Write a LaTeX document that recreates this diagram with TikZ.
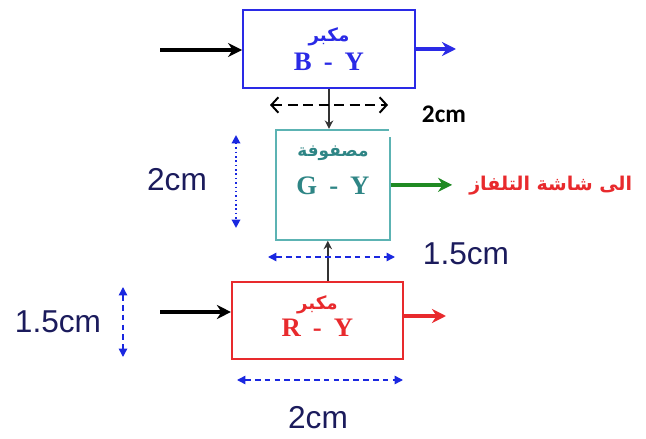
\documentclass[tikz,border=0pt]{standalone}
\usepackage{fontspec}
\setmainfont{Liberation Sans}
\newfontfamily\arabicfont[Script=Arabic]{DejaVu Sans}
\newfontfamily\boxserif{Liberation Serif}
\newfontfamily\notefont{Carlito}
\TeXXeTstate=1
\usepackage{xcolor}
\definecolor{ampblue}{HTML}{2A2AE6}
\definecolor{matteal}{HTML}{5CB3B3}
\definecolor{mattext}{HTML}{2E8585}
\definecolor{ampred}{HTML}{E82A2D}
\definecolor{tvgreen}{HTML}{1F8A22}
\definecolor{dimblue}{HTML}{1A28E0}
\definecolor{labelnavy}{HTML}{1B1B5C}
\usepackage{tikz}
\usetikzlibrary{arrows.meta, positioning}

\newcommand{\dashsep}{\hspace{0.45em}-\hspace{0.45em}}

\begin{document}
\begin{tikzpicture}[x=0.025cm, y=-0.025cm, >=Stealth,
  ampbox/.style={draw, line width=1.3pt, fill=white, align=center,
    font=\boxserif\bfseries\fontsize{19}{22}\selectfont},
  boxtext/.style={align=center, font=\boxserif\bfseries\fontsize{19}{22}\selectfont},
  feed/.style={->, line width=2.8pt, >={Stealth[length=10pt, width=10pt]}},
  link/.style={->, line width=1.3pt, draw=black!80,
    >={Stealth[length=6pt, width=6pt]}},
  blackdim/.style={<->, line width=1.4pt, dash pattern=on 7pt off 4pt,
    >={Straight Barb[length=5pt, width=11pt]}},
  bluedim/.style={<->, line width=1.1pt, dimblue, dash pattern=on 4pt off 3pt,
    >={Triangle[length=6pt, width=6pt]}},
  dimlabel/.style={font=\fontsize{22.5}{25}\selectfont, text=labelnavy}
]
\useasboundingbox (0,0) rectangle (646,439);

% amplifiers and matrix
\node[ampbox, draw=ampblue, text=ampblue,
      minimum width=4.3cm, minimum height=1.95cm] (byAmp) at (329,49)
      {{\arabicfont\fontsize{13}{13}\selectfont\beginR مكبر\endR}\\[-1pt]B\dashsep Y};

\node[ampbox, draw=matteal, minimum width=2.85cm, minimum height=2.75cm,
      below=1cm of byAmp, xshift=0.1cm] (gyMatrix) {};
\node[boxtext, text=mattext, below=0.3cm of gyMatrix.north] (gyText)
      {{\arabicfont\fontsize{12}{13}\selectfont\beginR مصفوفة\endR}\\[5pt]G\dashsep Y};

\node[ampbox, draw=ampred, minimum width=4.275cm, minimum height=1.925cm,
      below=1cm of gyMatrix, xshift=-0.39cm] (ryAmp) {};
\node[boxtext, text=ampred] (ryText) at ([yshift=0.1cm]ryAmp.center)
      {{\arabicfont\fontsize{13}{13}\selectfont\beginR مكبر\endR}\\[-3pt]R\dashsep Y};

\node[font=\arabicfont\bfseries\fontsize{13.5}{15}\selectfont, text=ampred,
      anchor=west, inner sep=0pt] (tvScreen) at (469,186) {\beginR الى شاشة التلفاز\endR};

% inputs and outputs
\coordinate (byIn) at (160,50);
\coordinate (byOut) at (456,49);
\coordinate (ryIn) at (160,312);
\coordinate (ryOut) at (446,316);
\coordinate (ryUp) at ([xshift=0.26cm]ryAmp.north);

\draw[feed] (byIn) -- (byIn -| byAmp.west);
\draw[feed, ampblue] (byAmp.east |- byOut) -- (byOut);
\draw[feed] (ryIn) -- (ryIn -| ryAmp.west);
\draw[feed, ampred] (ryAmp.east |- ryOut) -- (ryOut);
\draw[feed, tvgreen, shorten >=12pt] (gyMatrix.east) -- (gyMatrix.east -| tvScreen.west);

\draw[link] (byAmp.south) -- (byAmp.south |- gyMatrix.north);
\draw[link] (ryUp) -- (ryUp |- gyMatrix.south);

% dimensions
\node[font=\notefont\bfseries\fontsize{18}{20}\selectfont, fill=white,
      minimum width=2.75cm, minimum height=1.15cm] (topSize) at (444,114) {2cm};
\draw[blackdim] (270,105) -- (388,105);

\draw[bluedim, dotted, line width=1.4pt] (236,135) -- (236,228);
\node[dimlabel] (gyHeight) at (177,180) {2cm};

\draw[bluedim] (268,257) -- (395,257);
\node[dimlabel] (gyWidth) at (466,254) {1.5cm};

\draw[bluedim] (123,287) -- (123,357);
\node[dimlabel] (ryHeight) at (58,322) {1.5cm};

\draw[bluedim] (237,380) -- (403,380);
\node[dimlabel] (ryWidth) at (318,418) {2cm};

\end{tikzpicture}
\end{document}
